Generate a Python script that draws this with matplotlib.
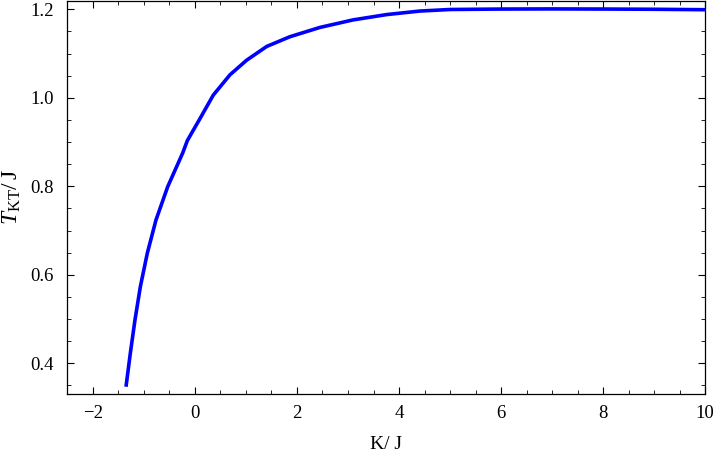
import numpy as np
import matplotlib
matplotlib.use("Agg")
import matplotlib.pyplot as plt
from matplotlib.ticker import MultipleLocator

plt.rcParams.update({
    "font.family": "serif",
    "font.serif": ["Liberation Serif", "DejaVu Serif"],
    "font.size": 13.5,
    "mathtext.fontset": "custom",
    "mathtext.rm": "Liberation Serif",
    "mathtext.it": "Liberation Serif:italic",
    "xtick.direction": "in",
    "ytick.direction": "in",
    "xtick.top": True,
    "ytick.right": True,
})

# K/J values and KT transition temperature
k_over_j = [-1.35, -1.265, -1.174, -1.069, -0.932, -0.762, -0.533, -0.24, -0.149,
            -0.03, 0.10, 0.36, 0.688, 1.015, 1.407, 1.863, 2.451, 3.10, 3.758,
            4.41, 5.0, 6.0, 7.0, 8.0, 9.0, 10.0]
t_kt = [0.347, 0.423, 0.498, 0.573, 0.649, 0.724, 0.799, 0.875, 0.903,
        0.927, 0.953, 1.006, 1.052, 1.085, 1.116, 1.138, 1.159, 1.176, 1.188,
        1.196, 1.1995, 1.2005, 1.2008, 1.2005, 1.2, 1.199]

fig = plt.figure(figsize=(7.16, 4.57), dpi=100)
ax = fig.add_axes([0.094, 0.1385, 0.891, 0.86])

ax.plot(k_over_j, t_kt, color="#0000ff", linewidth=2.6,
        solid_capstyle="butt", solid_joinstyle="round")

ax.set_xlim(-2.5, 10)
ax.set_ylim(0.3313, 1.2194)
ax.xaxis.set_major_locator(MultipleLocator(2))
ax.xaxis.set_minor_locator(MultipleLocator(0.5))
ax.yaxis.set_major_locator(MultipleLocator(0.2))
ax.yaxis.set_minor_locator(MultipleLocator(0.05))
ax.yaxis.set_major_formatter(plt.FuncFormatter(lambda v, p: f"{v:.1f}"))
ax.xaxis.set_major_formatter(plt.FuncFormatter(lambda v, p: f"{v:.0f}".replace("-", "\u2212")))
ax.tick_params(which="major", length=5, width=0.8)
ax.tick_params(which="minor", length=3, width=0.6)
ax.tick_params(axis="y", pad=10)
ax.tick_params(axis="x", pad=8)
for s in ax.spines.values():
    s.set_linewidth(0.9)

ax.set_xlabel("K/ J", labelpad=10, fontsize=14)
ax.set_ylabel(r"$T_{\rm KT}/\,{\rm J}$", labelpad=5, fontsize=17)

fig.savefig("out.png", dpi=100)
